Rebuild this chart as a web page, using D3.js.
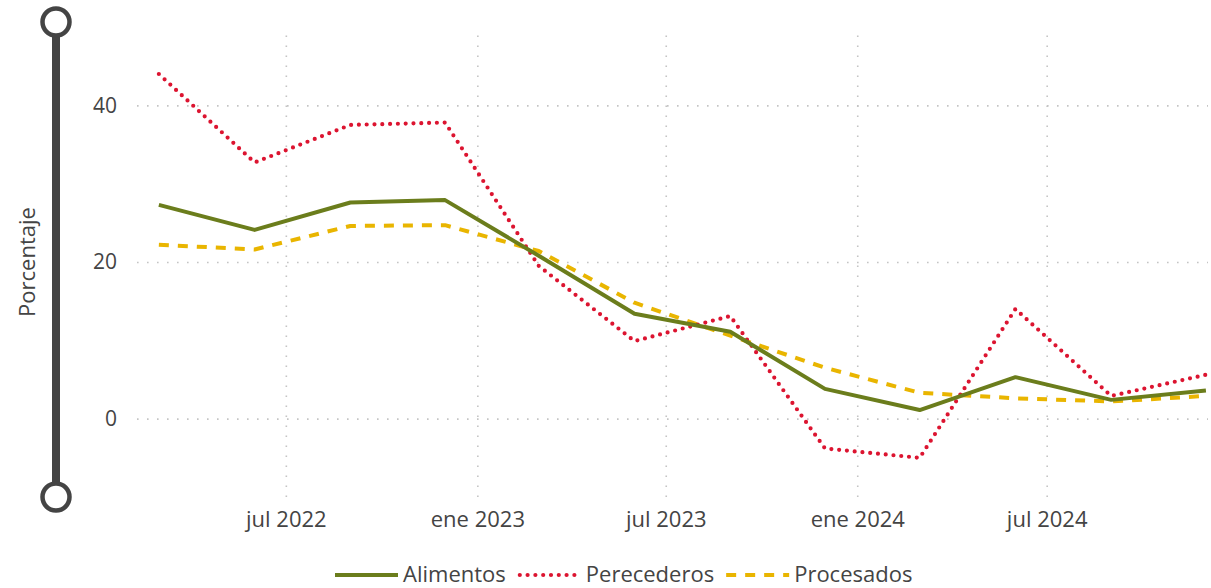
<!DOCTYPE html>
<html>
<head>
<meta charset="utf-8">
<script src="https://cdn.jsdelivr.net/npm/d3@7"></script>
<style>
  body { margin: 0; background: #fff; }
  svg text { font-family: "Open Sans", "Noto Sans", sans-serif; }
  .grid line { stroke: #c4c4c4; stroke-width: 1.6; stroke-dasharray: 1.6, 8.4; }
  .tick text { fill: #444; }
</style>
</head>
<body>
<script>
// quarterly points
var fechas = ['2022-03-01', '2022-06-01', '2022-09-01', '2022-12-01',
  '2023-03-01', '2023-06-01', '2023-09-01', '2023-12-01',
  '2024-03-01', '2024-06-01', '2024-09-01', '2024-12-01'];
var alimentos = [27.3, 24.1, 27.6, 27.9, 20.8, 13.4, 11.1, 3.8, 1.1, 5.3, 2.4, 3.6];
var perecederos = [44.0, 32.7, 37.5, 37.8, 19.5, 9.9, 13.1, -3.8, -5.0, 14.0, 2.9, 5.6];
var procesados = [22.2, 21.6, 24.6, 24.7, 21.4, 14.8, 10.6, 6.5, 3.3, 2.6, 2.2, 2.9];

var series = ['Alimentos', 'Perecederos', 'Procesados'];
var xTicks = ['2022-07-01', '2023-01-01', '2023-07-01', '2024-01-01', '2024-07-01'];
var yTicks = [0, 20, 40];
var meses = ['ene', 'feb', 'mar', 'abr', 'may', 'jun', 'jul', 'ago', 'sep', 'oct', 'nov', 'dic'];

var width = 1211, height = 588;
var plotLeft = 137, plotRight = 1208, plotTop = 27, plotBottom = 497;

var parse = d3.timeParse('%Y-%m-%d');
var dates = fechas.map(parse);

var svg = d3.select('body').append('svg')
  .attr('width', width)
  .attr('height', height);

var x = d3.scaleTime()
  .domain([parse('2022-02-08'), parse('2024-12-03')])
  .range([plotLeft, plotRight]);

var y = d3.scaleLinear()
  .domain([-10, 50])
  .range([plotBottom, plotTop]);

// y axis + horizontal grid
var yAxis = svg.append('g')
  .attr('class', 'grid')
  .attr('transform', 'translate(' + plotLeft + ',0)')
  .call(d3.axisLeft(y).tickValues(yTicks).tickSize(-(plotRight - plotLeft)).tickPadding(20));
yAxis.select('.domain').remove();
yAxis.selectAll('text').style('font-size', '21px');

// x axis + vertical grid
var xAxis = svg.append('g')
  .attr('class', 'grid')
  .attr('transform', 'translate(0,' + plotBottom + ')')
  .call(d3.axisBottom(x)
    .tickValues(xTicks.map(parse))
    .tickSize(-(plotBottom - plotTop))
    .tickPadding(14)
    .tickFormat(function(d) { return meses[d.getMonth()] + ' ' + d.getFullYear(); }));
xAxis.select('.domain').remove();
xAxis.selectAll('text').style('font-size', '22px');

// slider on the left
var slider = svg.append('g').attr('stroke', '#444');
slider.append('line')
  .attr('x1', 56).attr('x2', 56)
  .attr('y1', 34).attr('y2', 484)
  .attr('stroke-width', 8);
slider.selectAll('circle')
  .data([22, 497])
  .enter().append('circle')
  .attr('cx', 56)
  .attr('cy', function(d) { return d; })
  .attr('r', 13.5)
  .attr('fill', '#fff')
  .attr('stroke-width', 4.5);

svg.append('text')
  .attr('transform', 'translate(35,262) rotate(-90)')
  .attr('text-anchor', 'middle')
  .style('font-size', '22px')
  .style('fill', '#444')
  .text('Porcentaje');

var styles = {
  Alimentos: { color: '#6b7d1c', dash: null, width: 4, cap: 'butt' },
  Perecederos: { color: '#dc1430', dash: '0,7.8', width: 4.2, cap: 'round' },
  Procesados: { color: '#e9b500', dash: '10,9', width: 4, cap: 'butt' }
};
var values = { Alimentos: alimentos, Perecederos: perecederos, Procesados: procesados };

var line = d3.line()
  .x(function(d, i) { return x(dates[i]); })
  .y(function(d) { return y(d); });

series.slice().reverse().forEach(function(name) {
  var s = styles[name];
  svg.append('path')
    .datum(values[name])
    .attr('fill', 'none')
    .attr('stroke', s.color)
    .attr('stroke-width', s.width)
    .attr('stroke-dasharray', s.dash)
    .attr('stroke-linecap', s.cap)
    .attr('stroke-linejoin', 'round')
    .attr('d', line);
});

// legend
var lx = 335, ly = 575;
series.forEach(function(name) {
  var s = styles[name];
  svg.append('line')
    .attr('x1', lx + (s.cap === 'round' ? 2 : 0)).attr('x2', lx + 63)
    .attr('y1', ly).attr('y2', ly)
    .attr('stroke', s.color)
    .attr('stroke-width', s.width)
    .attr('stroke-dasharray', s.dash)
    .attr('stroke-linecap', s.cap);
  var t = svg.append('text')
    .attr('x', lx + 68)
    .attr('y', ly + 7)
    .style('font-size', '22px')
    .style('fill', '#444')
    .text(name);
  lx += 68 + t.node().getComputedTextLength() + 12;
});
</script>
</body>
</html>
